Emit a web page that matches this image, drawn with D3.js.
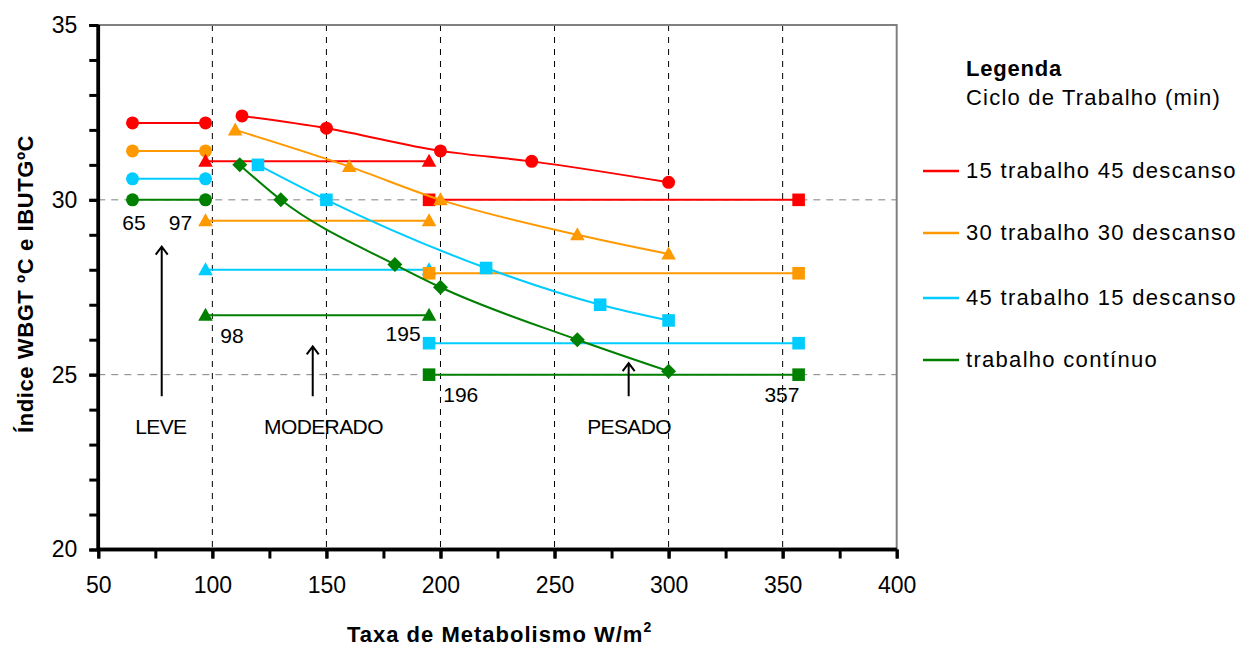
<!DOCTYPE html>
<html>
<head>
<meta charset="utf-8">
<script src="https://cdn.jsdelivr.net/npm/d3@7"></script>
<style>
  body { margin:0; background:#fff; }
  svg { display:block; font-family:"Liberation Sans", Arial, sans-serif; }
</style>
</head>
<body>
<div id="graph"></div>
<script>
// series (legend order)
var seriesNames = ["15 trabalho 45 descanso", "30 trabalho 30 descanso", "45 trabalho 15 descanso", "trabalho contínuo"];
var seriesColors = ["#ff0000", "#ff9900", "#00ccff", "#008000"];

// horizontal limit segments: LEVE (circles), MODERADO (triangles), PESADO (squares)
var leveX = [65, 97];
var leveY = [32.2, 31.4, 30.6, 30.0];
var moderadoX = [97, 195];
var moderadoY = [31.1, 29.4, 28.0, 26.7];
var pesadoX = [195, 357];
var pesadoY = [30.0, 27.9, 25.9, 25.0];

// smoothed curves
var curveShapes = ["circle", "triangle", "square", "diamond"];
var curveX = [
  [113, 150, 200, 240, 300],
  [110, 160, 200, 260, 300],
  [120, 150, 220, 270, 300],
  [112, 130, 180, 200, 260, 300]
];
var curveY = [
  [32.4, 32.05, 31.4, 31.1, 30.5],
  [32.0, 30.95, 30.0, 29.0, 28.45],
  [31.0, 30.0, 28.05, 27.0, 26.55],
  [31.0, 30.0, 28.15, 27.5, 26.0, 25.1]
];

// axis ticks
var xTicks = [50, 100, 150, 200, 250, 300, 350, 400];
var yTicks = [20, 25, 30, 35];
var xGrid = [100, 150, 200, 250, 300, 350];
var yGrid = [25, 30];

// annotations (data units)
var numLabels = [
  {t:"65", x:65.6, y:29.15},
  {t:"97", x:86, y:29.15},
  {t:"98", x:108.6, y:25.9},
  {t:"195", x:183.6, y:25.95},
  {t:"196", x:208.9, y:24.22},
  {t:"357", x:349.7, y:24.22}
];
var zoneLabels = [
  {t:"LEVE", x:77.4, y:23.3},
  {t:"MODERADO", x:148.7, y:23.3},
  {t:"PESADO", x:282.7, y:23.3}
];
var arrows = [
  {x:77.8, y0:24.38, y1:28.66},
  {x:144, y0:24.38, y1:25.81},
  {x:282.5, y0:24.38, y1:25.33}
];

var W = 1255, H = 646;
var x = d3.scaleLinear().domain([50, 400]).range([98.3, 896.7]);
var y = d3.scaleLinear().domain([20, 35]).range([549.5, 25]);

var svg = d3.select("#graph").append("svg")
  .attr("width", W).attr("height", H);

// grid
svg.append("g").selectAll("line").data(xGrid).enter().append("line")
  .attr("x1", d => x(d)).attr("x2", d => x(d))
  .attr("y1", y(35)).attr("y2", y(20))
  .attr("stroke", "#000").attr("stroke-width", 1).attr("stroke-dasharray", "6,6");
svg.append("g").selectAll("line").data(yGrid).enter().append("line")
  .attr("x1", x(50)).attr("x2", x(400))
  .attr("y1", d => y(d)).attr("y2", d => y(d))
  .attr("stroke", "#808080").attr("stroke-width", 1).attr("stroke-dasharray", "7,6");

// top / right border
svg.append("path")
  .attr("d", "M" + x(50) + "," + y(35) + "H" + x(400) + "V" + y(20))
  .attr("fill", "none").attr("stroke", "#808080").attr("stroke-width", 2);

// axes
var fontSize = 23;
var yMinor = svg.append("g").attr("transform", "translate(" + x(50) + ",0)")
  .call(d3.axisLeft(y).tickValues(d3.range(20, 36, 1)).tickSize(9).tickFormat(""));
var yAx = svg.append("g").attr("transform", "translate(" + x(50) + ",0)")
  .call(d3.axisLeft(y).tickValues(yTicks).tickSize(9).tickPadding(12));
var xMinor = svg.append("g").attr("transform", "translate(0," + y(20) + ")")
  .call(d3.axisBottom(x).tickValues(d3.range(50, 401, 25)).tickSize(9).tickFormat(""));
var xAx = svg.append("g").attr("transform", "translate(0," + y(20) + ")")
  .call(d3.axisBottom(x).tickValues(xTicks).tickSize(9).tickPadding(18));

[yMinor, yAx, xMinor, xAx].forEach(function(g) {
  g.select(".domain").attr("stroke", "#000").attr("stroke-width", 3.5);
  g.selectAll(".tick line").attr("stroke", "#000").attr("stroke-width", 3);
  g.selectAll("text").attr("font-size", fontSize).attr("fill", "#000")
    .attr("font-family", "Liberation Sans, Arial, sans-serif");
});
yMinor.select(".domain").attr("d", "M0," + y(35) + "V" + y(20));
yAx.select(".domain").attr("d", "M0," + y(35) + "V" + y(20));
xMinor.select(".domain").attr("d", "M" + x(50) + ",0H" + x(400));
xAx.select(".domain").attr("d", "M" + x(50) + ",0H" + x(400));

// axis titles
svg.append("text")
  .attr("x", 347).attr("y", 642)
  .attr("font-size", 22).attr("font-weight", "bold").attr("letter-spacing", 1)
  .html('Taxa de Metabolismo W/m<tspan font-size="14" dy="-10">2</tspan>');
svg.append("text")
  .attr("transform", "translate(33,284) rotate(-90)")
  .attr("text-anchor", "middle")
  .attr("font-size", 22).attr("font-weight", "bold").attr("letter-spacing", 0.6)
  .text("Índice WBGT ºC e IBUTGºC");

// markers
function markerPath(shape) {
  if (shape === "circle") return "M6.5,0A6.5,6.5 0 1,1 -6.5,0A6.5,6.5 0 1,1 6.5,0Z";
  if (shape === "triangle") return "M0,-7.5L7.3,5.5L-7.3,5.5Z";
  if (shape === "square") return "M-6.3,-6.3H6.3V6.3H-6.3Z";
  return "M0,-7.5L7.5,0L0,7.5L-7.5,0Z";
}

function drawPair(xs, ys, shape) {
  ys.forEach(function(v, i) {
    var pts = xs.map(function(d) { return [x(d), y(v)]; });
    svg.append("path")
      .attr("d", d3.line()(pts))
      .attr("fill", "none").attr("stroke", seriesColors[i]).attr("stroke-width", 2);
    svg.append("g").selectAll("path").data(pts).enter().append("path")
      .attr("transform", d => "translate(" + d[0] + "," + d[1] + ")")
      .attr("d", markerPath(shape)).attr("fill", seriesColors[i]);
  });
}

drawPair(leveX, leveY, "circle");
drawPair(moderadoX, moderadoY, "triangle");
drawPair(pesadoX, pesadoY, "square");

var smooth = d3.line().curve(d3.curveMonotoneX);
curveX.forEach(function(xs, i) {
  var pts = xs.map(function(d, j) { return [x(d), y(curveY[i][j])]; });
  svg.append("path")
    .attr("d", smooth(pts))
    .attr("fill", "none").attr("stroke", seriesColors[i]).attr("stroke-width", 2);
  svg.append("g").selectAll("path").data(pts).enter().append("path")
    .attr("transform", d => "translate(" + d[0] + "," + d[1] + ")")
    .attr("d", markerPath(curveShapes[i])).attr("fill", seriesColors[i]);
});

// annotations
svg.append("g").selectAll("text").data(numLabels).enter().append("text")
  .attr("x", d => x(d.x)).attr("y", d => y(d.y))
  .attr("text-anchor", "middle")
  .attr("font-size", 21).text(d => d.t);
svg.append("g").selectAll("text").data(zoneLabels).enter().append("text")
  .attr("x", d => x(d.x)).attr("y", d => y(d.y))
  .attr("text-anchor", "middle").attr("letter-spacing", -0.6)
  .attr("font-size", 21).text(d => d.t);
arrows.forEach(function(a) {
  var ax = x(a.x), ty = y(a.y1);
  svg.append("path")
    .attr("d", "M" + ax + "," + y(a.y0) + "V" + ty +
      "M" + (ax - 6) + "," + (ty + 8) + "L" + ax + "," + ty + "L" + (ax + 6) + "," + (ty + 8))
    .attr("fill", "none").attr("stroke", "#000").attr("stroke-width", 2);
});

// legend
var leg = svg.append("g");
leg.append("text").attr("x", 966).attr("y", 76)
  .attr("font-size", 22).attr("font-weight", "bold").attr("letter-spacing", 0.8)
  .text("Legenda");
leg.append("text").attr("x", 966).attr("y", 105)
  .attr("font-size", 22).attr("letter-spacing", 1.2)
  .text("Ciclo de Trabalho (min)");
var legY = [171, 233, 298, 360];
seriesNames.forEach(function(name, i) {
  leg.append("line")
    .attr("x1", 923).attr("x2", 959).attr("y1", legY[i]).attr("y2", legY[i])
    .attr("stroke", seriesColors[i]).attr("stroke-width", 2.5);
  leg.append("text").attr("x", 966).attr("y", legY[i] + 7)
    .attr("font-size", 22).attr("letter-spacing", 1.3)
    .text(name);
});
</script>
</body>
</html>
